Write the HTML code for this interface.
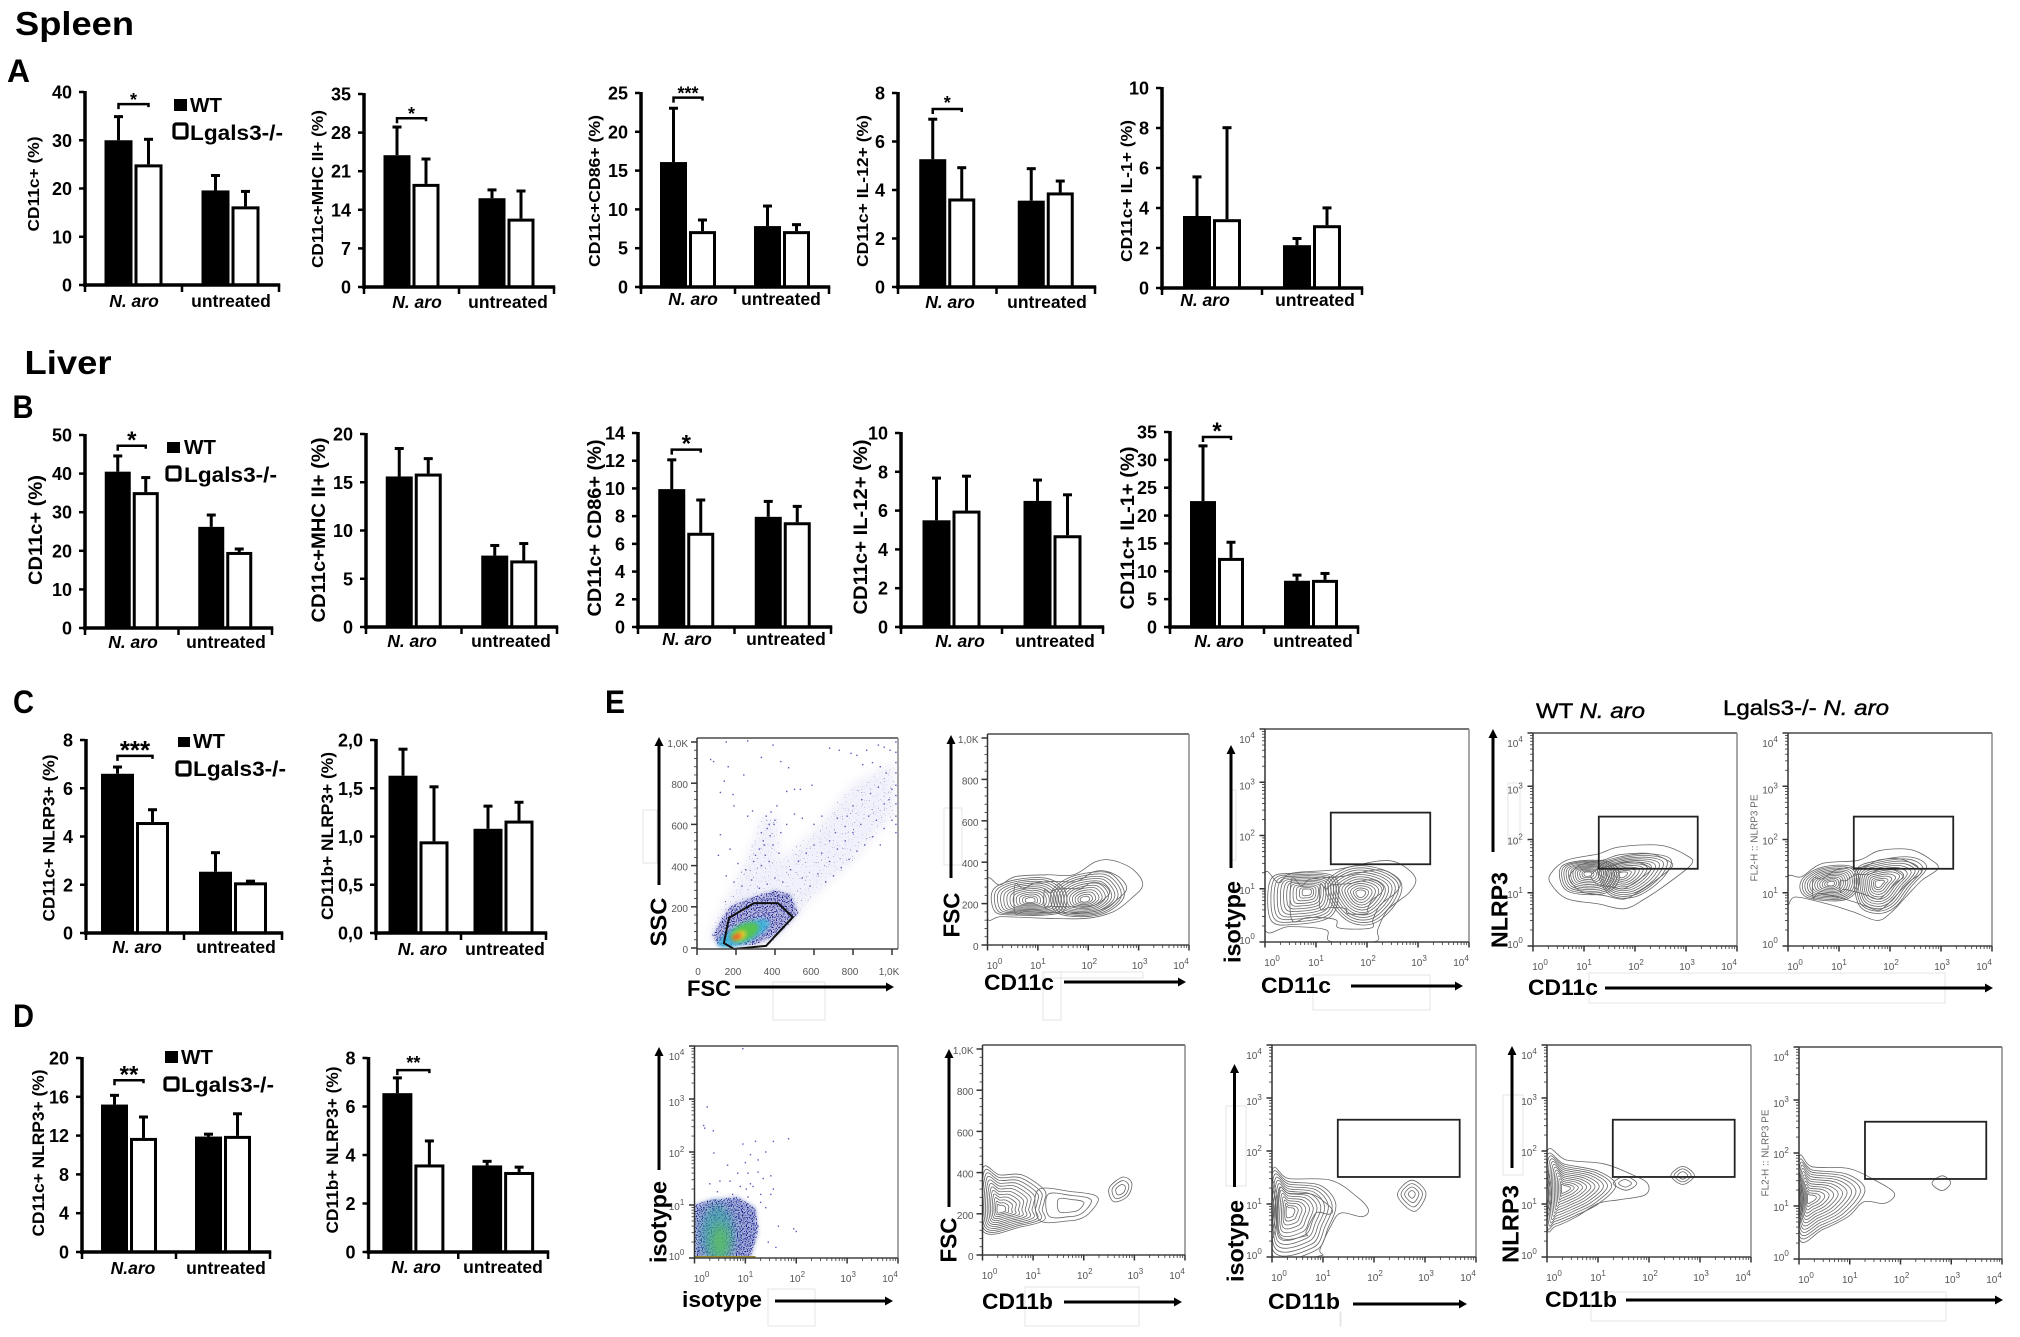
<!DOCTYPE html>
<html lang="en">
<head>
<meta charset="utf-8">
<title>Spleen and liver dendritic cell panels</title>
<style>
html,body{margin:0;padding:0;background:#fff;width:2020px;height:1337px;overflow:hidden}
svg{display:block;filter:blur(0.35px)}
text{font-family:"Liberation Sans",Arial,sans-serif}
</style>
</head>
<body>
<svg id="figure" xmlns="http://www.w3.org/2000/svg" width="2020" height="1337" viewBox="0 0 2020 1337">
<defs>
<filter id="stipple-sparse" color-interpolation-filters="sRGB">
<feTurbulence type="fractalNoise" baseFrequency="0.75" numOctaves="1" seed="4"/>
<feColorMatrix type="matrix" values="0 0 0 0 0.22  0 0 0 0 0.22  0 0 0 0 0.62  9 0 0 0 -6.1"/>
<feComposite in2="SourceAlpha" operator="in"/>
</filter>
<filter id="stipple-dense" color-interpolation-filters="sRGB">
<feTurbulence type="fractalNoise" baseFrequency="0.8" numOctaves="1" seed="9"/>
<feColorMatrix type="matrix" values="0 0 0 0 0.1  0 0 0 0 0.12  0 0 0 0 0.55  9 0 0 0 -4.6"/>
<feComposite in2="SourceAlpha" operator="in"/>
</filter>
<filter id="soft" x="-50%" y="-50%" width="200%" height="200%"><feGaussianBlur stdDeviation="2"/></filter>
<filter id="soft-wide" x="-30%" y="-30%" width="160%" height="160%"><feGaussianBlur stdDeviation="5"/></filter>
</defs>
</svg>
<script>
// ---------- bar chart data (means and upper error lengths) ----------
const categories = ['N. aro', 'untreated'];
const categoriesD1 = ['N.aro', 'untreated'];
const seriesNames = ['WT', 'Lgals3-/-'];

const a1Wt = [30, 19.6];      const a1Ko = [25, 16.3];     const a1WtErr = [5, 3.2];      const a1KoErr = [5.3, 3.2];
const a2Wt = [23.9, 16.1];    const a2Ko = [18.7, 12.4];   const a2WtErr = [5.2, 1.6];    const a2KoErr = [4.6, 5.1];
const a3Wt = [16.1, 7.85];    const a3Ko = [7.2, 7.2];     const a3WtErr = [7, 2.65];     const a3KoErr = [1.5, 0.9];
const a4Wt = [5.27, 3.56];    const a4Ko = [3.65, 3.9];    const a4WtErr = [1.67, 1.34];  const a4KoErr = [1.29, 0.49];
const a5Wt = [3.6, 2.14];     const a5Ko = [3.44, 3.14];   const a5WtErr = [1.98, 0.36];  const a5KoErr = [4.6, 0.89];
const b1Wt = [40.5, 26.2];    const b1Ko = [35.2, 19.7];   const b1WtErr = [4.2, 3.2];    const b1KoErr = [3.9, 0.9];
const b2Wt = [15.6, 7.4];     const b2Ko = [15.9, 6.9];    const b2WtErr = [2.95, 1.1];   const b2KoErr = [1.6, 1.8];
const b3Wt = [9.95, 7.95];    const b3Ko = [6.8, 7.56];    const b3WtErr = [2.15, 1.15];  const b3KoErr = [2.4, 1.18];
const b4Wt = [5.5, 6.5];      const b4Ko = [6.0, 4.73];    const b4WtErr = [2.2, 1.1];    const b4KoErr = [1.8, 2.11];
const b5Wt = [22.6, 8.3];     const b5Ko = [12.4, 8.46];   const b5WtErr = [10, 1.1];     const b5KoErr = [2.9, 1.24];
const c1Wt = [6.6, 2.54];     const c1Ko = [4.6, 2.1];     const c1WtErr = [0.3, 0.81];   const c1KoErr = [0.53, 0.07];
const c2Wt = [1.63, 1.08];    const c2Ko = [0.95, 1.165];  const c2WtErr = [0.28, 0.24];  const c2KoErr = [0.57, 0.195];
const d1Wt = [15.2, 11.9];    const d1Ko = [11.76, 11.97]; const d1WtErr = [1, 0.3];      const d1KoErr = [2.21, 2.33];
const d2Wt = [6.55, 3.57];    const d2Ko = [3.61, 3.3];    const d2WtErr = [0.65, 0.19];  const d2KoErr = [0.99, 0.22];

const a1Ticks = [0, 10, 20, 30, 40];
const a2Ticks = [0, 7, 14, 21, 28, 35];
const a3Ticks = [0, 5, 10, 15, 20, 25];
const a4Ticks = [0, 2, 4, 6, 8];
const a5Ticks = [0, 2, 4, 6, 8, 10];
const b1Ticks = [0, 10, 20, 30, 40, 50];
const b2Ticks = [0, 5, 10, 15, 20];
const b3Ticks = [0, 2, 4, 6, 8, 10, 12, 14];
const b4Ticks = [0, 2, 4, 6, 8, 10];
const b5Ticks = [0, 5, 10, 15, 20, 25, 30, 35];
const c1Ticks = [0, 2, 4, 6, 8];
const c2Ticks = [0, 0.5, 1, 1.5, 2];
const c2TickLabels = ['0,0', '0,5', '1,0', '1,5', '2,0'];
const d1Ticks = [0, 4, 8, 12, 16, 20];
const d2Ticks = [0, 2, 4, 6, 8];

const a1Sig = ['*', 37.5];  const a2Sig = ['*', 30.6];  const a3Sig = ['***', 24.4]; const a4Sig = ['*', 7.34];
const b1Sig = ['*', 47.2];  const b3Sig = ['*', 12.8];  const b5Sig = ['*', 34.1];
const c1Sig = ['***', 7.34]; const d1Sig = ['**', 17.7]; const d2Sig = ['**', 7.5];

const barCharts = [
 {id:'a1', wt:a1Wt, ko:a1Ko, wtErr:a1WtErr, koErr:a1KoErr, ticks:a1Ticks, sig:a1Sig, title:'CD11c+ (%)', cats:categories,
  x0:85, x1:279, yTop:92, yBase:285, bw:28, tx:33, ty:184, tl:95, tf:16, lab:[134,231,307], star:[18,-5]},
 {id:'a2', wt:a2Wt, ko:a2Ko, wtErr:a2WtErr, koErr:a2KoErr, ticks:a2Ticks, sig:a2Sig, title:'CD11c+MHC II+ (%)', cats:categories,
  x0:364, x1:554, yTop:94, yBase:287, bw:27, tx:317, ty:189, tl:158, tf:16, lab:[417,508,308], star:[18,-5]},
 {id:'a3', wt:a3Wt, ko:a3Ko, wtErr:a3WtErr, koErr:a3KoErr, ticks:a3Ticks, sig:a3Sig, title:'CD11c+CD86+ (%)', cats:categories,
  x0:641, x1:829, yTop:93, yBase:287, bw:27, tx:594, ty:191, tl:152, tf:16, lab:[693,781,305], star:[18,-5]},
 {id:'a4', wt:a4Wt, ko:a4Ko, wtErr:a4WtErr, koErr:a4KoErr, ticks:a4Ticks, sig:a4Sig, title:'CD11c+ IL-12+ (%)', cats:categories,
  x0:898, x1:1095, yTop:93, yBase:287, bw:27, tx:862, ty:191, tl:152, tf:16, lab:[950,1047,308], star:[18,-7]},
 {id:'a5', wt:a5Wt, ko:a5Ko, wtErr:a5WtErr, koErr:a5KoErr, ticks:a5Ticks, sig:null, title:'CD11c+ IL-1+ (%)', cats:categories,
  x0:1162, x1:1362, yTop:88, yBase:288, bw:28, tx:1126, ty:191, tl:142, tf:16, lab:[1205,1315,306], star:[18,-5]},
 {id:'b1', wt:b1Wt, ko:b1Ko, wtErr:b1WtErr, koErr:b1KoErr, ticks:b1Ticks, sig:b1Sig, title:'CD11c+ (%)', cats:categories,
  x0:85, x1:272, yTop:435, yBase:628, bw:26, tx:35, ty:530, tl:110, tf:19, lab:[133,226,648], star:[24,-7]},
 {id:'b2', wt:b2Wt, ko:b2Ko, wtErr:b2WtErr, koErr:b2KoErr, ticks:b2Ticks, sig:null, title:'CD11c+MHC II+ (%)', cats:categories,
  x0:366, x1:557, yTop:434, yBase:627, bw:27, tx:318, ty:530, tl:185, tf:19, lab:[412,511,647], star:[24,-7]},
 {id:'b3', wt:b3Wt, ko:b3Ko, wtErr:b3WtErr, koErr:b3KoErr, ticks:b3Ticks, sig:b3Sig, title:'CD11c+ CD86+ (%)', cats:categories,
  x0:638, x1:831, yTop:433, yBase:627, bw:27, tx:594, ty:528, tl:177, tf:19, lab:[687,786,645], star:[24,-7]},
 {id:'b4', wt:b4Wt, ko:b4Ko, wtErr:b4WtErr, koErr:b4KoErr, ticks:b4Ticks, sig:null, title:'CD11c+ IL-12+ (%)', cats:categories,
  x0:901, x1:1103, yTop:433, yBase:627, bw:28, tx:860, ty:527, tl:175, tf:19, lab:[960,1055,647], star:[24,-7]},
 {id:'b5', wt:b5Wt, ko:b5Ko, wtErr:b5WtErr, koErr:b5KoErr, ticks:b5Ticks, sig:b5Sig, title:'CD11c+ IL-1+ (%)', cats:categories,
  x0:1170, x1:1358, yTop:432, yBase:627, bw:26, tx:1127, ty:528, tl:163, tf:19, lab:[1219,1313,647], star:[24,-7]},
 {id:'c1', wt:c1Wt, ko:c1Ko, wtErr:c1WtErr, koErr:c1KoErr, ticks:c1Ticks, sig:c1Sig, title:'CD11c+ NLRP3+ (%)', cats:categories,
  x0:86, x1:282, yTop:740, yBase:933, bw:33, tx:48.5, ty:838, tl:167, tf:17, lab:[137,236,953], star:[26,-7]},
 {id:'c2', wt:c2Wt, ko:c2Ko, wtErr:c2WtErr, koErr:c2KoErr, ticks:c2Ticks, tickLabels:c2TickLabels, sig:null, title:'CD11b+ NLRP3+ (%)', cats:categories,
  x0:376, x1:546, yTop:740, yBase:933, bw:29, tx:327, ty:836, tl:168, tf:17, lab:[422.5,505,955], star:[24,-7]},
 {id:'d1', wt:d1Wt, ko:d1Ko, wtErr:d1WtErr, koErr:d1KoErr, ticks:d1Ticks, sig:d1Sig, title:'CD11c+ NLRP3+ (%)', cats:categoriesD1,
  x0:82, x1:270, yTop:1058, yBase:1252, bw:27, tx:38, ty:1153, tl:167, tf:17, lab:[133,226,1274], star:[24,-7]},
 {id:'d2', wt:d2Wt, ko:d2Ko, wtErr:d2WtErr, koErr:d2KoErr, ticks:d2Ticks, sig:d2Sig, title:'CD11b+ NLRP3+ (%)', cats:categories,
  x0:368.5, x1:548, yTop:1058, yBase:1252, bw:30, tx:332, ty:1150, tl:167, tf:17, lab:[416,503,1273], star:[18,-8]}
];

const legends = [
 {id:'a', square:[174,99,13,12], wtX:190, wtY:112, box:[174,124,13,14], koX:190, koY:140},
 {id:'b', square:[167,442,13,11], wtX:184, wtY:454, box:[167,467,13,13], koX:184, koY:482},
 {id:'c', square:[178,737,12,10], wtX:193, wtY:748, box:[177,762,13,13], koX:193, koY:776},
 {id:'d', square:[165,1051,13,12], wtX:181, wtY:1064, box:[165,1078,13,12], koX:181, koY:1092}
];

const headings = [
 {t:'Spleen', x:15, y:35, s:33, l:119, name:'spleen-heading'},
 {t:'Liver', x:24.5, y:374, s:33, l:87, name:'liver-heading'},
 {t:'A', x:7, y:82, s:32, l:23, name:'panel-label-a'},
 {t:'B', x:12.5, y:418, s:32, l:21, name:'panel-label-b'},
 {t:'C', x:13, y:713, s:32, l:21, name:'panel-label-c'},
 {t:'D', x:13, y:1027, s:32, l:21, name:'panel-label-d'},
 {t:'E', x:605, y:713, s:32, l:20, name:'panel-label-e'}
];

// ---------- flow cytometry data (estimated outlines, in axis units: decades or linear channel) ----------
const e1Points = [[70,915],[85,905],[150,1000],[260,1005],[390,985],[330,925],[470,875],[430,905],[160,880],[240,840],[140,810],[120,755],[185,745],[190,690],[285,665],[260,640],[460,760],[500,770],[530,770],[590,790],[680,970],[730,960],[790,945],[820,935],[870,960],[930,985],[960,975],[900,900],[940,880],[970,850],[850,890],[990,960],[1020,1000],[1020,950],[1020,900],[1020,850],[1020,790],[1020,740],[1020,700],[1020,640],[1020,600],[1020,560],[1000,770],[985,720],[960,700],[930,780],[890,750],[845,720],[800,690],[770,640],[720,630],[760,590],[710,560],[680,520],[640,640],[600,600],[540,630],[500,650],[460,600],[430,560],[400,620],[380,660],[410,690],[360,580],[340,520],[320,480],[300,450],[350,450],[390,500],[420,460],[370,420],[330,400],[290,420],[250,380],[210,410],[170,480],[120,550],[110,450],[150,350],[190,320],[230,300],[280,330],[320,290],[360,310],[400,340],[440,320],[480,380],[520,420],[560,460],[600,500],[640,460],[680,420],[720,480],[760,520],[800,560],[840,600],[880,640],[920,620],[960,580],[1000,620],[940,500],[900,540],[860,500],[820,470],[780,430],[740,390],[700,350],[660,320],[620,360],[580,300],[540,340],[355,640],[370,600],[330,560],[345,500],[395,600],[375,545]];
const e1SparseBand = [[90,20],[60,60],[130,200],[250,420],[340,650],[420,620],[420,420],[600,570],[800,800],[1010,900],[1010,650],[800,420],[600,250],[480,120],[380,20]];
const e1DenseBand = [[110,10],[80,60],[120,130],[170,200],[260,240],[400,280],[480,260],[520,170],[420,70],[300,15]];
const e1Density = [[240,70,28,9,-25,'#35b6dc',0.85],[245,78,15,8,-25,'#57c44a',0.95],[218,60,7,4,-25,'#f1d82c',1],[205,55,5,2,-25,'#ea2a22',1]];
const e1GatePoints = [[292,218],[415,218],[492,150],[354,10],[190,-5],[138,24],[164,146]];

const e6Points = [[0.95,3.95],[0.25,2.85],[0.18,2.5],[0.2,2.45],[0.37,2.4],[0.38,1.98],[0.65,1.75],[0.95,2.15],[1.2,2.2],[1.55,2.2],[1.85,2.25],[1.4,2],[1.1,1.95],[1.25,1.85],[1,1.8],[0.85,1.6],[1.05,1.6],[1.35,1.5],[1.5,1.55],[1.55,1.3],[1.5,1.2],[1.3,1.2],[1.15,1.35],[0.9,1.35],[0.7,1.45],[0.5,1.45],[0.3,1.4],[1.05,1.15],[1.4,0.95],[1.65,0.6],[1.95,0.55],[2,0.5],[1.45,0.3],[1.6,0.2],[1.3,1.05],[1.18,0.85],[1.25,0.6],[0.75,1.2],[0.45,1.25],[1.1,1.4],[1.25,1.62],[1.02,1.3]];
const e6DenseCloud = [[0,0],[1.1,0],[1.25,0.5],[1.2,0.95],[0.85,1.15],[0.3,1.1],[0,1]];
const e6Density = [[0.45,0.45,17,30,0,'#2fa6a0',0.6],[0.5,0.3,9,18,0,'#5ec655',0.7]];

const contourLevels = [1,0.92,0.84,0.76,0.68,0.6,0.52,0.44,0.36,0.28,0.2,0.13];
const fewLevels = [1,0.72,0.42];
const outerOnly = [1];
const twoLevels = [1,0.55];

const e2Outer = [[0,318],[0.24,290],[0.55,330],[1.17,339],[1.71,339],[2.15,403],[2.5,408],[2.9,363],[3.08,290],[2.86,226],[2.5,161],[1.97,129],[1.17,129],[0.28,137],[0,129]];
const e2OuterPeak = [1.95,225];
const e2Right = [[1.26,250],[1.53,315],[1.97,348],[2.41,348],[2.68,282],[2.68,218],[2.32,153],[1.79,137],[1.35,161]];
const e2RightPeak = [1.93,218];
const e2Left = [[0.11,266],[0.55,315],[1.17,322],[1.53,266],[1.53,170],[1.17,145],[0.55,145],[0.15,161]];
const e2LeftPeak = [0.85,215];

const e3Outer = [[0,1.29],[0.27,1.11],[0.52,1.29],[1.39,1.36],[2.21,1.52],[2.62,1.48],[2.95,1.2],[2.82,0.92],[2.41,0.61],[2.21,0.23],[2.16,0.01],[1.29,0.01],[1.19,0.23],[0.47,0.29],[0,0.23]];
const e3Right = [[1.19,1.11],[1.7,1.42],[2.31,1.36],[2.67,1.11],[2.57,0.73],[2.16,0.36],[1.7,0.36],[1.34,0.67]];
const e3RightPeak = [1.87,0.91];
const e3Left = [[0.11,1.17],[0.57,1.29],[1.29,1.26],[1.44,0.98],[1.29,0.48],[0.57,0.33],[0.11,0.42]];
const e3LeftPeak = [0.83,0.95];

const e4Outer = [[0.35,1.36],[0.66,1.61],[1.28,1.73],[1.69,1.86],[2.51,1.89],[3.03,1.69],[3.11,1.54],[2.72,1.23],[2.2,0.89],[1.79,0.7],[1.28,0.79],[0.66,0.89],[0.35,1.17]];
const e4Right = [[1.27,1.48],[1.69,1.67],[2.3,1.73],[2.71,1.61],[2.5,1.23],[1.99,0.92],[1.48,0.98]];
const e4RightPeak = [1.73,1.34];
const e4Left = [[0.55,1.48],[1.07,1.61],[1.58,1.54],[1.68,1.23],[1.37,0.98],[0.66,1.04]];
const e4LeftPeak = [1.07,1.36];

const e5Outer = [[0,1.3],[0.26,1.3],[0.67,1.55],[1.38,1.61],[1.79,1.79],[2.4,1.81],[2.82,1.61],[2.94,1.45],[2.62,1.23],[2.31,0.92],[2,0.61],[1.74,0.48],[1.28,0.64],[0.77,0.79],[0.15,0.92],[0,0.79]];
const e5Right = [[1.33,1.42],[1.79,1.61],[2.41,1.67],[2.72,1.48],[2.41,1.11],[2.1,0.73],[1.74,0.61],[1.38,0.79]];
const e5RightPeak = [1.77,1.17];
const e5Left = [[0.26,1.23],[0.67,1.48],[1.28,1.48],[1.38,1.11],[1.08,0.86],[0.36,0.92]];
const e5LeftPeak = [0.84,1.17];

const e7Main = [[0,418],[0.34,389],[0.78,389],[1.22,316],[1.22,260],[1.18,219],[1.22,170],[0.78,138],[0,118]];
const e7MainPeak = [0.34,219];
const e7Tail = [[1.1,316],[1.75,308],[2.19,292],[2.28,259],[2.02,186],[1.67,165],[1.12,170]];
const e7TailPeak = [1.8,240];
const e7Island = [[2.5,324],[2.77,378],[2.95,348],[2.86,284],[2.59,259]];
const e7IslandPeak = [2.73,316];

const e8Outer = [[0,1.61],[0.33,1.48],[1.15,1.45],[1.66,1.14],[1.89,0.89],[1.76,0.76],[1.35,0.83],[1.15,0.58],[0.94,0.14],[0.94,0.02],[0,0.02]];
const e8Inner = [[0,1.55],[0.33,1.42],[0.95,1.35],[1.25,1],[1.1,0.55],[0.85,0.12],[0,0.05]];
const e8Peak = [0.33,0.86];
const e8Island = [[2.46,1.17],[2.74,1.45],[3.02,1.2],[2.79,0.86]];
const e8IslandPeak = [2.74,1.19];
const e8IslandLevels = [1,0.75,0.5,0.25];
const e8EdgeArc = [[0,1.4],[0.08,1.2],[0.1,0.9],[0.08,0.6],[0,0.4]];
const e8EdgePeak = [0,0.9];

const e9Outer = [[0,1.98],[0.38,1.83],[1.1,1.76],[1.61,1.58],[1.97,1.39],[1.92,1.17],[1.41,1.08],[1,1.01],[0.58,0.76],[0.17,0.58],[0,0.58]];
const e9Inner = [[0,1.9],[0.35,1.75],[1,1.62],[1.35,1.35],[1,1],[0.55,0.78],[0.15,0.62],[0,0.62]];
const e9Peak = [0.33,1.29];
const e9Sub = [[1.3,1.39],[1.53,1.52],[1.76,1.39],[1.55,1.26]];
const e9SubPeak = [1.53,1.39];
const e9Island = [[2.43,1.54],[2.66,1.71],[2.89,1.54],[2.66,1.37]];
const e9IslandPeak = [2.66,1.54];
const e9EdgeArc = [[0,1.6],[0.07,1.4],[0.09,1.2],[0.07,0.98],[0,0.8]];
const e9EdgePeak = [0,1.2];

const e10Outer = [[0,1.89],[0.26,1.74],[0.97,1.71],[1.49,1.49],[1.88,1.24],[1.69,1.05],[1.28,1.08],[0.97,0.8],[0.46,0.55],[0,0.39]];
const e10Inner = [[0,1.82],[0.26,1.68],[0.95,1.6],[1.3,1.3],[0.95,0.85],[0.46,0.6],[0,0.45]];
const e10Peak = [0.2,1.14];
const e10Island = [[2.62,1.43],[2.82,1.57],[2.99,1.44],[2.82,1.29]];
const e10IslandPeak = [2.8,1.44];
const e10EdgeArc = [[0,1.6],[0.06,1.35],[0.08,1.14],[0.06,0.9],[0,0.7]];
const e10EdgePeak = [0,1.14];

const linearTicks = [0,200,400,600,800,1000];
const linearTickLabels = ['0','200','400','600','800','1,0K'];
const decadeTicks = [0,1,2,3,4];

const flowPlots = [
 {id:'e1', box:[697,898,738,949], xLin:[697,892], yLin:[948,742],
  xt:{n:'FSC',x:687,y:996,l:44,arrow:[735,894,987]}, yt:{n:'SSC',x:658,yc:922,l:49,arrow:[659,885,737]}, rot:null, gate:null, contours:[]},
 {id:'e2', box:[987.5,1189,734,945], yLin:[945,738],
  xt:{n:'CD11c',x:984,y:990,l:70,arrow:[1064,1186,982]}, yt:{n:'FSC',x:951,yc:915,l:45,arrow:[951,878,735]}, gate:null,
  contours:[[e2Outer,e2OuterPeak,fewLevels],[e2Right,e2RightPeak,contourLevels],[e2Left,e2LeftPeak,contourLevels]]},
 {id:'e3', box:[1265,1469,729,942],
  xt:{n:'CD11c',x:1261,y:993,l:70,arrow:[1351,1463,986]}, yt:{n:'isotype',x:1232,yc:922,l:82,arrow:[1231,868,745]}, gate:[1.29,3.24,1.46,2.43],
  contours:[[e3Outer,e3RightPeak,fewLevels],[e3Right,e3RightPeak,contourLevels],[e3Left,e3LeftPeak,contourLevels]]},
 {id:'e4', box:[1533,1737,733,946],
  xt:{n:'CD11c',x:1528,y:995,l:70,arrow:[1605,1993,988]}, yt:{n:'NLRP3',x:1499,yc:910,l:76,arrow:[1493,852,729]}, gate:[1.29,3.23,1.45,2.43],
  contours:[[e4Outer,e4RightPeak,fewLevels],[e4Right,e4RightPeak,contourLevels],[e4Left,e4LeftPeak,contourLevels]]},
 {id:'e5', box:[1788,1992,733,946], sideLabel:{x:1754,yc:838,l:87},
  gate:[1.29,3.24,1.45,2.43],
  contours:[[e5Outer,e5RightPeak,fewLevels],[e5Right,e5RightPeak,contourLevels],[e5Left,e5LeftPeak,contourLevels]]},
 {id:'e6', box:[694.5,898,1046,1258],
  xt:{n:'isotype',x:682,y:1307,l:80,arrow:[775,893,1301]}, yt:{n:'isotype',x:658,yc:1222,l:82,arrow:[659,1170,1047]}, gate:null, contours:[]},
 {id:'e7', box:[982.5,1185,1045,1255], yLin:[1255,1049],
  xt:{n:'CD11b',x:982,y:1309,l:71,arrow:[1064,1182,1302]}, yt:{n:'FSC',x:948,yc:1240,l:45,arrow:[949,1207,1049]}, gate:null,
  contours:[[e7Main,e7MainPeak,contourLevels],[e7Tail,e7TailPeak,fewLevels],[e7Island,e7IslandPeak,fewLevels]]},
 {id:'e8', box:[1272,1476,1045,1257],
  xt:{n:'CD11b',x:1268,y:1309,l:72,arrow:[1353,1467,1304]}, yt:{n:'isotype',x:1235,yc:1241,l:82,arrow:[1234.5,1187,1064]}, gate:[1.29,3.68,1.51,2.59],
  contours:[[e8Outer,e8Peak,twoLevels],[e8Inner,e8Peak,contourLevels],[e8Island,e8IslandPeak,e8IslandLevels],[e8EdgeArc,e8EdgePeak,fewLevels]]},
 {id:'e9', box:[1547,1751,1045,1257],
  xt:{n:'CD11b',x:1545,y:1307,l:72,arrow:[1626,2003,1300]}, yt:{n:'NLRP3',x:1510,yc:1224,l:78,arrow:[1512,1168,1046]}, gate:[1.29,3.68,1.51,2.59],
  contours:[[e9Outer,e9Peak,outerOnly],[e9Inner,e9Peak,contourLevels],[e9Sub,e9SubPeak,twoLevels],[e9Island,e9IslandPeak,fewLevels],[e9EdgeArc,e9EdgePeak,fewLevels]]},
 {id:'e10', box:[1799,2002,1047,1259], sideLabel:{x:1765,yc:1153,l:87},
  gate:[1.3,3.69,1.51,2.59],
  contours:[[e10Outer,e10Peak,outerOnly],[e10Inner,e10Peak,contourLevels],[e10Island,e10IslandPeak,outerOnly],[e10EdgeArc,e10EdgePeak,fewLevels]]}
];

const faintFrames = [[643,810,14,53],[944,808,18,57],[773,982,52,38],[1043,972,100,6],[1043,972,18,48],[1589,973,356,30],[1591,1292,355,29],[768,1289,47,37],[1025,1287,114,39],[1313,975,117,35],[1508,783,12,60],[1232,790,4,70],[1226,1106,20,80],[1503,1095,20,80],[1340,1312,1,14]];

// ---------- drawing helpers ----------
const NS = 'http://www.w3.org/2000/svg';
const root = document.getElementById('figure');
function mk(tag, attrs, parent) {
  const el = document.createElementNS(NS, tag);
  for (const k in attrs) el.setAttribute(k, attrs[k]);
  (parent || root).appendChild(el);
  return el;
}
function hText(parent, str, x, y, size, anchor, weight, style, len) {
  const attrs = {x:x, y:y, 'font-size':size, 'text-anchor':anchor, 'font-weight':weight, 'font-style':style, fill:'#000'};
  if (len) { attrs.textLength = len; attrs.lengthAdjust = 'spacingAndGlyphs'; }
  const t = mk('text', attrs, parent);
  t.textContent = str;
  return t;
}
function vText(parent, str, x, yc, size, len, fill, weight) {
  const bx = x + size * 0.36;
  const t = mk('text', {x:bx, y:yc, 'font-size':size, 'text-anchor':'middle', 'font-weight':weight || 'bold', fill:fill || '#000',
    textLength:len, lengthAdjust:'spacingAndGlyphs', transform:'rotate(-90 ' + bx + ' ' + yc + ')'}, parent);
  t.textContent = str;
  return t;
}
function arrowH(parent, x1, x2, y) {
  const g = mk('g', {}, parent);
  mk('rect', {x:x1, y:y - 1.5, width:x2 - x1 - 6, height:3, fill:'#000'}, g);
  mk('path', {d:'M' + x2 + ' ' + y + 'L' + (x2 - 8) + ' ' + (y - 4.5) + 'V' + (y + 4.5) + 'Z', fill:'#000'}, g);
  return g;
}
function arrowV(parent, x, yFrom, yTo) {
  const g = mk('g', {}, parent);
  mk('rect', {x:x - 1.5, y:yTo + 6, width:3, height:yFrom - yTo - 6, fill:'#000'}, g);
  mk('path', {d:'M' + x + ' ' + yTo + 'L' + (x - 4.5) + ' ' + (yTo + 9) + 'H' + (x + 4.5) + 'Z', fill:'#000'}, g);
  return g;
}
function smoothClosed(pts) {
  const n = pts.length;
  let d = 'M' + pts[0][0].toFixed(1) + ' ' + pts[0][1].toFixed(1);
  for (let i = 0; i < n; i++) {
    const p0 = pts[(i - 1 + n) % n], p1 = pts[i], p2 = pts[(i + 1) % n], p3 = pts[(i + 2) % n];
    d += 'C' + (p1[0] + (p2[0] - p0[0]) / 6).toFixed(1) + ' ' + (p1[1] + (p2[1] - p0[1]) / 6).toFixed(1) + ' ' +
         (p2[0] - (p3[0] - p1[0]) / 6).toFixed(1) + ' ' + (p2[1] - (p3[1] - p1[1]) / 6).toFixed(1) + ' ' +
         p2[0].toFixed(1) + ' ' + p2[1].toFixed(1);
  }
  return d + 'Z';
}

// ---------- headings ----------
headings.forEach(function (h) {
  const t = hText(root, h.t, h.x, h.y, h.s, 'start', 'bold', 'normal', h.l);
  
  
});

// ---------- bar charts ----------
barCharts.forEach(function (c) {
  const g = mk('g', {});
  
  
  const yMax = c.ticks[c.ticks.length - 1];
  const sy = function (v) { return c.yBase - (v / yMax) * (c.yBase - c.yTop); };
  const groupX = function (i) { return c.x0 + (i + 0.5) * (c.x1 - c.x0) / c.cats.length; };
  const barX = function (i, s) { return groupX(i) + (s === 0 ? -1 - c.bw : 1); };
  const barMid = function (i, s) { return barX(i, s) + c.bw / 2; };

  // bars
  [c.wt, c.ko].forEach(function (vals, s) {
    const errs = s === 0 ? c.wtErr : c.koErr;
    vals.forEach(function (v, i) {
      const top = sy(v + errs[i]);
      const mid = barMid(i, s);
      const stem = mk('rect', {x:mid - 1.5, y:top, width:3, height:sy(v) - top, fill:'#000'}, g);
      
      
      const cap = mk('rect', {x:mid - 4.5, y:top - 1, width:9, height:3, fill:'#000'}, g);
      
      
      let bar;
      if (s === 0) {
        bar = mk('rect', {x:barX(i, s), y:sy(v), width:c.bw, height:c.yBase - sy(v), fill:'#000'}, g);
      } else {
        bar = mk('rect', {x:barX(i, s) + 1.5, y:sy(v) + 1.5, width:c.bw - 3, height:c.yBase - sy(v) - 1.5, fill:'#fff', stroke:'#000', 'stroke-width':3}, g);
      }
      
      
    });
  });

  // axes
  const yAxis = mk('rect', {x:c.x0 - 1.75, y:c.yTop - 1, width:3.5, height:c.yBase - c.yTop + 3, fill:'#000'}, g);
  
  
  const xAxis = mk('rect', {x:c.x0 - 1.75, y:c.yBase - 1.75, width:c.x1 - c.x0 + 3, height:3.5, fill:'#000'}, g);
  
  
  c.ticks.forEach(function (v, i) {
    const y = sy(v);
    mk('rect', {x:c.x0 - 6, y:y - 1.25, width:5, height:2.5, fill:'#000'}, g);
    const lab = c.tickLabels ? c.tickLabels[i] : String(v);
    const t = hText(g, lab, c.x0 - 13, y + 6.5, 18, 'end', 'bold', 'normal');
    
    
  });
  [0, 1, 2].forEach(function (k) {
    const x = c.x0 + k * (c.x1 - c.x0) / 2;
    mk('rect', {x:x - 1.25, y:c.yBase, width:2.5, height:7, fill:'#000'}, g);
  });
  c.cats.forEach(function (name, i) {
    const t = hText(g, name, c.lab[i], c.lab[2], 17.5, 'middle', 'bold', i === 0 ? 'italic' : 'normal');
    
    
  });
  const yTitle = vText(g, c.title, c.tx, c.ty, c.tf, c.tl);
  
  

  // significance bracket
  if (c.sig) {
    const yb = sy(c.sig[1]);
    const xa = barMid(0, 0), xb = barMid(0, 1);
    const br = mk('path', {d:'M' + xa + ' ' + (yb + 5) + 'V' + yb + 'H' + xb + 'V' + (yb + 3), fill:'none', stroke:'#000', 'stroke-width':2.5}, g);
    
    
    const st = hText(g, c.sig[0], (xa + xb) / 2, yb + c.star[1] + 0.38 * c.star[0], c.star[0], 'middle', 'bold', 'normal');
    
    
  }
});

// ---------- legends ----------
legends.forEach(function (l) {
  const g = mk('g', {});
  
  
  const sq = mk('rect', {x:l.square[0], y:l.square[1], width:l.square[2], height:l.square[3], fill:'#000'}, g);
  
  
  const wt = hText(g, seriesNames[0], l.wtX, l.wtY, 20, 'start', 'bold', 'normal', 32);
  
  
  const bx = mk('rect', {x:l.box[0], y:l.box[1], width:l.box[2], height:l.box[3], rx:2, fill:'#fff', stroke:'#000', 'stroke-width':3.2}, g);
  
  
  const ko = hText(g, seriesNames[1], l.koX, l.koY, 21, 'start', 'bold', 'normal', 93);
  
  
});

// ---------- faint scan artefact frames in panel E ----------
const faintGroup = mk('g', {});


faintFrames.forEach(function (f) {
  mk('rect', {x:f[0], y:f[1], width:f[2], height:f[3], fill:'none', stroke:'#e6e6e6', 'stroke-width':1}, faintGroup);
});

// ---------- flow plots ----------
flowPlots.forEach(function (p, idx) {
  const g = mk('g', {});
  
  
  const x0 = p.box[0], x1 = p.box[1], yt = p.box[2], yb = p.box[3];
  const sx = p.xLin
    ? function (v) { return p.xLin[0] + v / 1000 * (p.xLin[1] - p.xLin[0]); }
    : function (d) { return x0 + d * (x1 - x0) / 4; };
  const sy = p.yLin
    ? function (v) { return p.yLin[0] - v / 1000 * (p.yLin[0] - p.yLin[1]); }
    : function (d) { return yb - d * (yb - yt) / 4; };

  const clipId = 'clip-' + p.id;
  const cp = mk('clipPath', {id:clipId}, g);
  mk('rect', {x:x0, y:yt, width:x1 - x0, height:yb - yt}, cp);
  const content = mk('g', {'clip-path':'url(#' + clipId + ')'}, g);

  // dot plots
  if (p.id === 'e1') {
    const toPts = function (arr) { return arr.map(function (q) { return sx(q[0]).toFixed(1) + ',' + sy(q[1]).toFixed(1); }).join(' '); };
    mk('polygon', {points:toPts(e1SparseBand), fill:'#8f90d6', opacity:0.13, filter:'url(#soft-wide)'}, content);
    const sp = mk('polygon', {points:toPts(e1SparseBand), fill:'#000', filter:'url(#stipple-sparse)'}, content);
    
    
    mk('polygon', {points:toPts(e1DenseBand), fill:'#5a5ab4', opacity:0.35, filter:'url(#soft)'}, content);
    mk('polygon', {points:toPts(e1DenseBand), fill:'#000', filter:'url(#stipple-dense)'}, content);
    e1Points.forEach(function (q) {
      const d = mk('rect', {x:sx(q[0]) - 0.7, y:sy(q[1]) - 0.7, width:1.4, height:1.4, fill:'#5a5cb8'}, content);
      
      
    });
    e1Density.forEach(function (b) {
      mk('ellipse', {cx:sx(b[0]), cy:sy(b[1]), rx:b[2], ry:b[3], fill:b[5], opacity:b[6], filter:'url(#soft)',
        transform:'rotate(' + b[4] + ' ' + sx(b[0]) + ' ' + sy(b[1]) + ')'}, content);
    });
    const gate = mk('polygon', {points:toPts(e1GatePoints), fill:'none', stroke:'#111', 'stroke-width':2}, g);
    
    
  }
  if (p.id === 'e6') {
    const toPts = function (arr) { return arr.map(function (q) { return sx(q[0]).toFixed(1) + ',' + sy(q[1]).toFixed(1); }).join(' '); };
    mk('polygon', {points:toPts(e6DenseCloud), fill:'#3a4db0', opacity:0.45, filter:'url(#soft)'}, content);
    const dn = mk('polygon', {points:toPts(e6DenseCloud), fill:'#000', filter:'url(#stipple-dense)'}, content);
    
    
    e6Density.forEach(function (b) {
      mk('ellipse', {cx:sx(b[0]), cy:sy(b[1]), rx:b[2], ry:b[3], fill:b[5], opacity:b[6], filter:'url(#soft-wide)'}, content);
    });
    mk('rect', {x:sx(0), y:yb - 2, width:sx(1.2) - sx(0), height:2, fill:'#9a8a30'}, content);
    e6Points.forEach(function (q) {
      const d = mk('rect', {x:sx(q[0]) - 0.7, y:sy(q[1]) - 0.7, width:1.4, height:1.4, fill:'#5a5cb8'}, content);
      
      
    });
  }

  // contours
  p.contours.forEach(function (fam, fi) {
    const outline = fam[0], peak = fam[1], levels = fam[2];
    levels.forEach(function (s) {
      const pts = outline.map(function (q) {
        return [sx(peak[0] + (q[0] - peak[0]) * s), sy(peak[1] + (q[1] - peak[1]) * s)];
      });
      const line = mk('path', {d:smoothClosed(pts), fill:'none', stroke:'#666', 'stroke-width':0.8}, content);
      
      
    });
  });

  // frame
  const frameTop = mk('rect', {x:x0, y:yt - 1, width:x1 - x0, height:2, fill:'#777'}, g);
  
  
  const frameRight = mk('rect', {x:x1 - 0.75, y:yt, width:1.5, height:yb - yt, fill:'#888'}, g);
  
  
  const axisLeft = mk('rect', {x:x0 - 0.75, y:yt, width:1.5, height:yb - yt, fill:'#333'}, g);
  
  
  const axisBottom = mk('rect', {x:x0, y:yb - 0.75, width:x1 - x0, height:1.5, fill:'#444'}, g);
  
  

  // ticks and tick labels
  const tickColor = '#333', labelColor = '#555';
  const logLabel = function (x, y, exp, name) {
    const t = mk('text', {x:x, y:y, 'font-size':10, 'text-anchor':'middle', fill:labelColor}, g);
    t.textContent = '10';
    const sup = mk('tspan', {dy:-5, 'font-size':8}, t);
    sup.textContent = String(exp);
    
    
  };
  const xDx = [7, 0, 1, 1, -8];
  const yDy = [-2, 1, 1, 3, 10];
  if (p.xLin) {
    linearTicks.forEach(function (v, i) {
      mk('rect', {x:sx(v) - 0.75, y:yb, width:1.5, height:6, fill:tickColor}, g);
      const t = mk('text', {x:sx(v) + (i === 0 ? 1 : -3), y:975, 'font-size':10, 'text-anchor':'middle', fill:labelColor}, g);
      t.textContent = linearTickLabels[i];
      
      
    });
  } else {
    decadeTicks.forEach(function (d, i) {
      mk('rect', {x:sx(d) - 0.75, y:yb, width:1.5, height:5.5, fill:tickColor}, g);
      if (i < 4) for (let m = 2; m < 10; m++) {
        mk('rect', {x:sx(d + Math.log10(m)) - 0.4, y:yb, width:0.8, height:3, fill:tickColor}, g);
      }
      logLabel(sx(d) + xDx[i], yb + 24, d, 'x-tick-label-' + p.id + '-' + d);
    });
  }
  if (p.yLin) {
    linearTicks.forEach(function (v, i) {
      mk('rect', {x:x0 - 6, y:sy(v) - 0.75, width:6, height:1.5, fill:tickColor}, g);
      for (let m = 1; m < 5 && i < 5; m++) {
        mk('rect', {x:x0 - 3, y:sy(v + m * 40) - 0.4, width:3, height:0.8, fill:tickColor}, g);
      }
      const t = mk('text', {x:x0 - 9, y:sy(v) + 5, 'font-size':10, 'text-anchor':'end', fill:labelColor}, g);
      t.textContent = linearTickLabels[i];
      
      
    });
  } else {
    decadeTicks.forEach(function (d, i) {
      mk('rect', {x:x0 - 5.5, y:sy(d) - 0.75, width:5.5, height:1.5, fill:tickColor}, g);
      if (i < 4) for (let m = 2; m < 10; m++) {
        mk('rect', {x:x0 - 3, y:sy(d + Math.log10(m)) - 0.4, width:3, height:0.8, fill:tickColor}, g);
      }
      logLabel(x0 - 18, sy(d) + yDy[i] + 4, d, 'y-tick-label-' + p.id + '-' + d);
    });
  }

  // gate
  if (p.gate) {
    const gateRect = mk('rect', {x:sx(p.gate[0]), y:sy(p.gate[3]), width:sx(p.gate[1]) - sx(p.gate[0]), height:sy(p.gate[2]) - sy(p.gate[3]), fill:'none', stroke:'#222', 'stroke-width':1.8}, g);
    
    
  }

  // axis titles and arrows
  if (p.xt) {
    const xLab = hText(g, p.xt.n, p.xt.x, p.xt.y, 22, 'start', 'bold', 'normal', p.xt.l);
    
    
    const xArrow = arrowH(g, p.xt.arrow[0], p.xt.arrow[1], p.xt.arrow[2]);
    
    
  }
  if (p.yt) {
    const yLab = vText(g, p.yt.n, p.yt.x, p.yt.yc, 23, p.yt.l);
    
    
    const yArrow = arrowV(g, p.yt.arrow[0], p.yt.arrow[1], p.yt.arrow[2]);
    
    
  }
  if (p.sideLabel) {
    const side = vText(g, 'FL2-H :: NLRP3 PE', p.sideLabel.x, p.sideLabel.yc, 10, p.sideLabel.l, '#666', 'normal');
    
    
  }
});

// ---------- plot column headers ----------
const headerWt = mk('text', {x:1536, y:718, 'font-size':21, fill:'#000', stroke:'#000', 'stroke-width':0.4, textLength:109, lengthAdjust:'spacingAndGlyphs'});
headerWt.innerHTML = 'WT <tspan font-style="italic">N. aro</tspan>';


const headerKo = mk('text', {x:1723, y:715, 'font-size':21, fill:'#000', stroke:'#000', 'stroke-width':0.4, textLength:166, lengthAdjust:'spacingAndGlyphs'});
headerKo.innerHTML = 'Lgals3-/- <tspan font-style="italic">N. aro</tspan>';


</script>
</body>
</html>
